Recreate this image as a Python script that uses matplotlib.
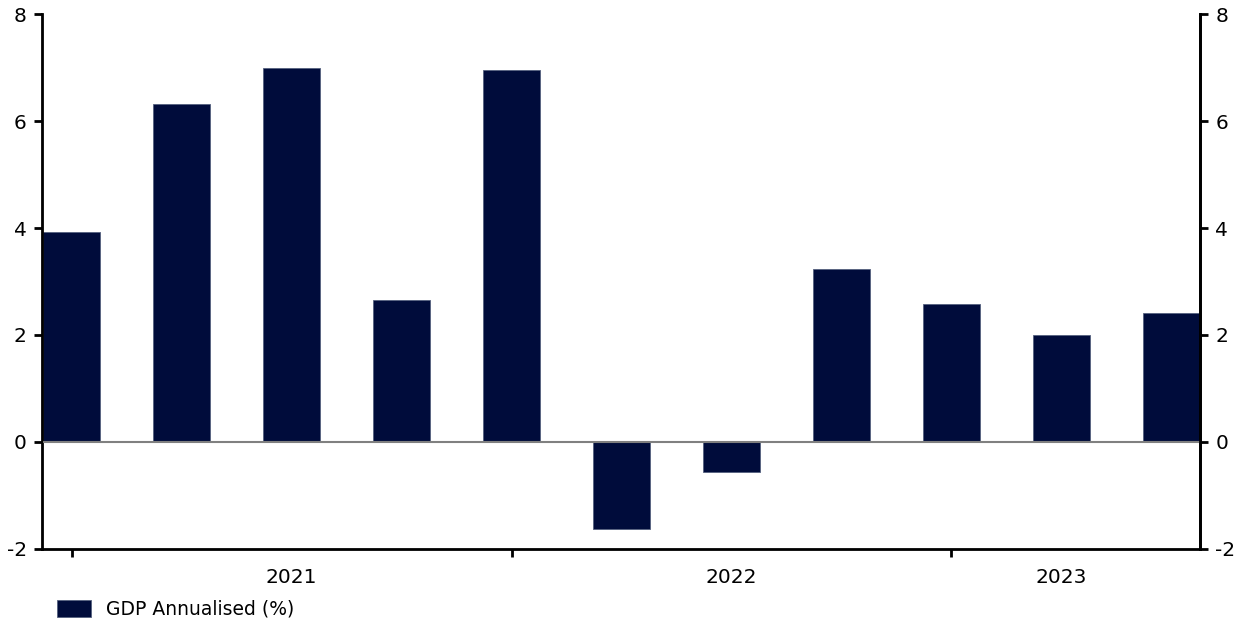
import matplotlib.pyplot as plt

# quarterly GDP, 2021 Q1 .. 2023 Q3
quarters = ["2021Q1", "2021Q2", "2021Q3", "2021Q4",
            "2022Q1", "2022Q2", "2022Q3", "2022Q4",
            "2023Q1", "2023Q2", "2023Q3"]
gdp = [3.93, 6.32, 7.0, 2.65, 6.96, -1.62, -0.56, 3.24, 2.58, 2.0, 2.41]
year_labels = ["2021", "2022", "2023"]
year_tick_pos = [0, 4, 8]        # year boundaries (quarter index)
year_label_pos = [2, 6, 9]       # where the year text sits
yticks = [-2, 0, 2, 4, 6, 8]

bar_color = "#000c3b"
fs = 14.5

fig = plt.figure(figsize=(12.49, 6.23), dpi=100)
ax = fig.add_axes([0.0336, 0.1188, 0.9272, 0.8587])

x = list(range(len(quarters)))
ax.bar(x, gdp, width=0.52, color=bar_color, edgecolor="#55607f", linewidth=0.6,
       label="GDP Annualised (%)", zorder=2)
ax.axhline(0, color="#808080", linewidth=1.5, zorder=3)

ax.set_xlim(-0.27, 10.26)
ax.set_ylim(-2, 8)
ax.set_yticks(yticks)
ax.set_yticklabels([str(t) for t in yticks])

ax.set_xticks(year_tick_pos)
ax.set_xticklabels([])
ax.set_xticks(year_label_pos, minor=True)
ax.set_xticklabels(year_labels, minor=True)
ax.tick_params(axis="x", which="major", direction="out", length=6, width=2)
ax.tick_params(axis="x", which="minor", length=0, pad=14, labelsize=fs)
ax.tick_params(axis="y", direction="out", length=6, width=2, labelsize=fs, pad=5)

for side in ["left", "right", "bottom"]:
    ax.spines[side].set_linewidth(2)
ax.spines["top"].set_visible(False)

ax2 = ax.twinx()
ax2.set_ylim(ax.get_ylim())
ax2.set_yticks(yticks)
ax2.set_yticklabels([str(t) for t in yticks])
ax2.tick_params(axis="y", direction="out", length=6, width=2, labelsize=fs, pad=5)
ax2.spines["top"].set_visible(False)
ax2.spines["right"].set_linewidth(2)

fig.legend(loc="lower left", bbox_to_anchor=(0.032, -0.02), frameon=False,
           fontsize=13.5, handlelength=1.8, handleheight=1.0, handletextpad=0.8)

fig.savefig("out.png", dpi=100)
